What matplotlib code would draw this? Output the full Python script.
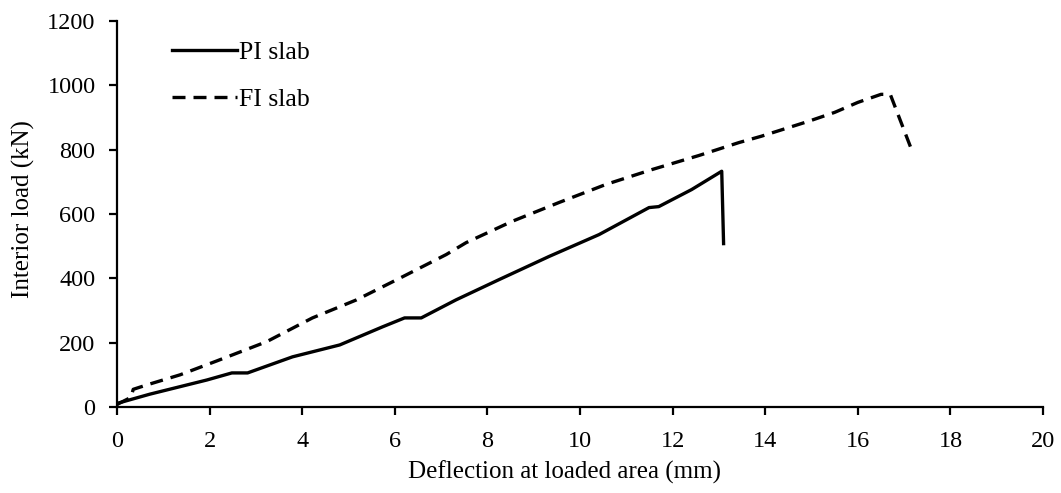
import matplotlib
matplotlib.use("Agg")
import matplotlib.pyplot as plt

# PI slab (solid)
pi_x = [0.0, 0.02, 0.71, 1.94, 2.48, 2.82, 3.79, 4.81, 5.73, 6.21, 6.57, 7.32, 8.25,
        9.33, 10.41, 11.49, 11.7, 12.41, 13.06, 13.1]
pi_y = [8, 12, 40, 84, 106, 106, 156, 193, 249, 277, 277, 333, 396,
        468, 536, 620, 623, 676, 733, 508]

# FI slab (dashed)
fi_x = [0.0, 0.3, 0.35, 0.65, 1.36, 2.15, 3.23, 4.22, 5.17, 6.1, 7.11, 7.54, 8.53,
        9.55, 10.56, 11.55, 12.57, 13.43, 13.92, 14.93, 15.5, 16.0, 16.5, 16.7, 17.16]
fi_y = [8, 30, 55, 69, 100, 143, 203, 277, 333, 400, 474, 511, 577,
        636, 692, 738, 782, 822, 842, 888, 916, 947, 972, 972, 800]

plt.rcParams["font.family"] = ["Liberation Serif", "DejaVu Serif"]
plt.rcParams["font.size"] = 17.5

fig = plt.figure(figsize=(10.61, 4.93), dpi=100)
ax = fig.add_axes([0.1103, 0.1744, 0.8728, 0.783])

ax.plot(pi_x, pi_y, color="black", lw=2.4, label="PI slab")
ax.plot(fi_x, fi_y, color="black", lw=2.4, dashes=(3.9, 2.4), label="FI slab")

ax.set_xlim(0, 20)
ax.set_ylim(0, 1200)
ax.set_xticks(range(0, 21, 2))
ax.set_yticks(range(0, 1201, 200))
ax.set_xlabel("Deflection at loaded area (mm)", fontsize=18)
ax.set_ylabel("Interior load (kN)", fontsize=18, labelpad=9)
ax.xaxis.set_label_coords(0.483, -0.14)
ax.yaxis.label.set_y(0.512)

for s in ["top", "right"]:
    ax.spines[s].set_visible(False)
for s in ["left", "bottom"]:
    ax.spines[s].set_linewidth(1.6)
ax.tick_params(direction="out", length=6, width=1.6, colors="black")
ax.tick_params(axis="x", pad=11.5)
ax.tick_params(axis="y", pad=9.5)

ax.legend(loc="upper left", bbox_to_anchor=(0.059, 0.947), frameon=False,
          borderaxespad=0, borderpad=0, fontsize=18.5,
          handlelength=2.55, handletextpad=0.08, labelspacing=0.9)

fig.savefig("out.png", dpi=100)
